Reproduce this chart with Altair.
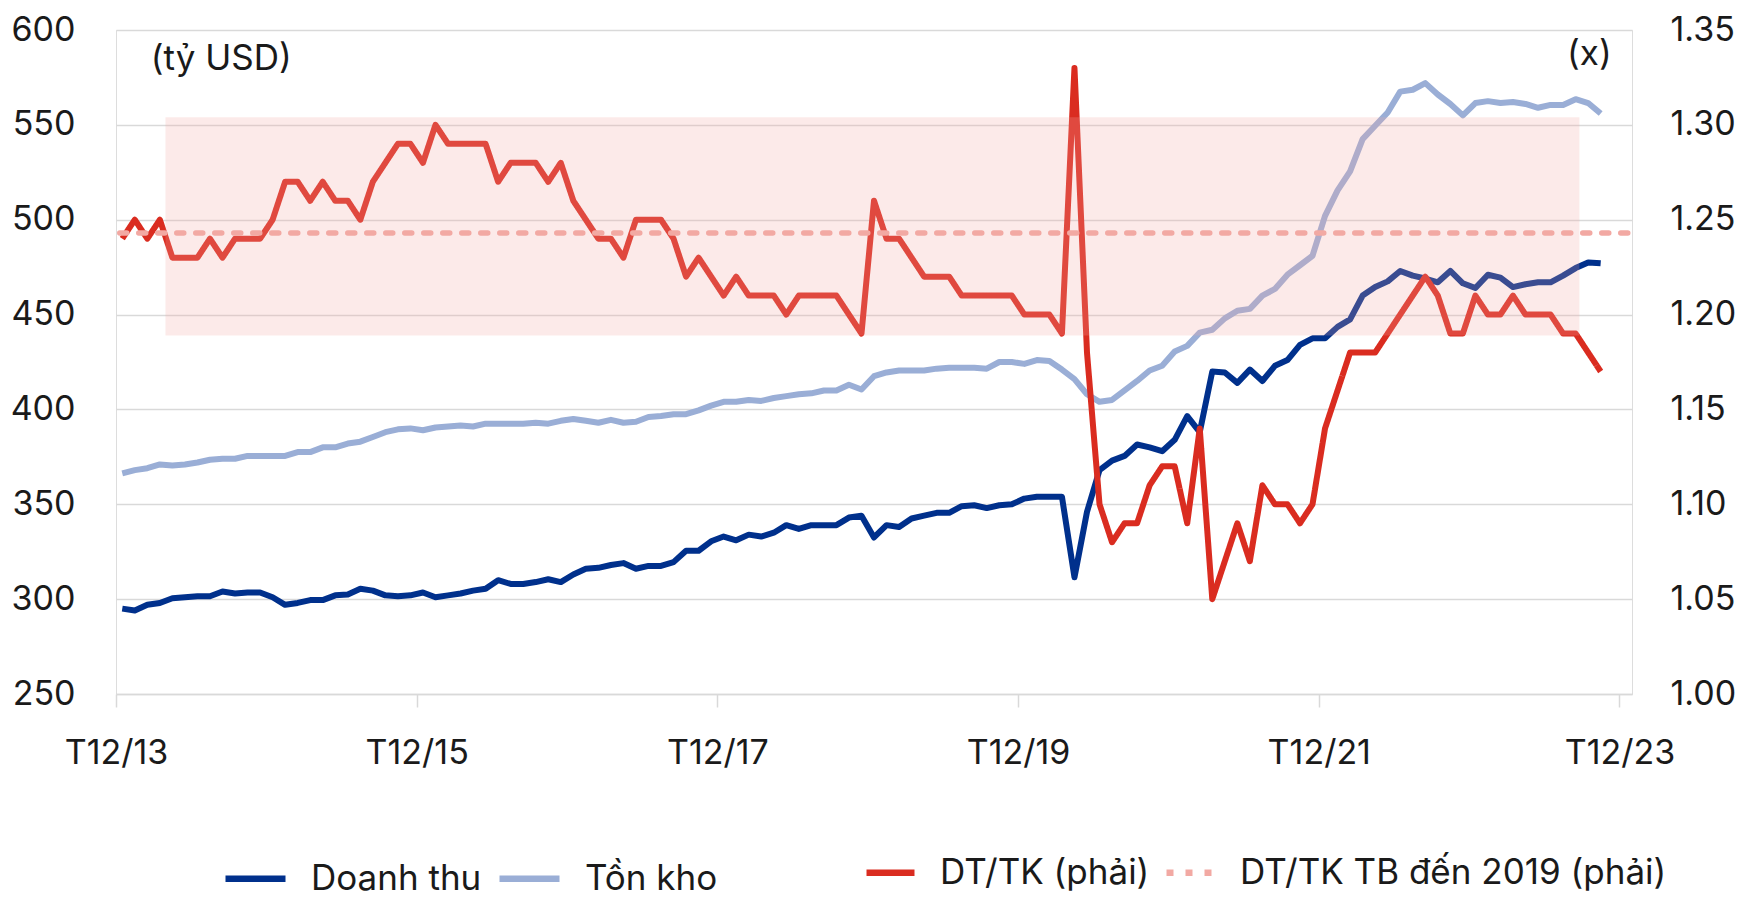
import altair as alt
import pandas as pd

# ---------------- data (monthly, index 0 = T12/2013) ----------------
doanh_thu = [
    295, 294, 297, 298, 300.5, 301, 301.5, 301.5, 304, 303,
    303.5, 303.5, 301, 297, 298, 299.5, 299.5, 302, 302.5, 305.5,
    304.5, 302, 301.5, 302, 303.5, 301, 302, 303, 304.5, 305.5,
    310, 308, 308, 309, 310.5, 309, 313, 316, 316.5, 318,
    319, 316, 317.5, 317.5, 319.5, 325.5, 325.5, 330.5, 333, 331,
    334, 333, 335, 339, 337, 339, 339, 339, 343, 344,
    332.5, 339, 338, 342.5, 344, 345.5, 345.5, 349, 349.5, 348,
    349.5, 350, 353, 354, 354, 354, 311.5, 346, 368, 373,
    375.5, 381.5, 380, 378, 384, 396.5, 388, 420, 419.5, 414,
    421, 415, 423, 426, 434, 437.5, 437.5, 443.5, 447.5, 460,
    464.5, 467.5, 473, 470.5, 469, 467, 473, 466.5, 464, 471,
    469.5, 464.5, 466, 467, 467, 470.5, 474.5, 477.5, 477,
]
ton_kho = [
    366.3, 368, 369, 371, 370.5, 371, 372, 373.5, 374, 374,
    375.5, 375.5, 375.5, 375.5, 377.5, 377.5, 380, 380, 382, 383,
    385.5, 388, 389.5, 390, 389, 390.5, 391, 391.5, 391, 392.5,
    392.5, 392.5, 392.5, 393, 392.5, 394, 395, 394, 393, 394.5,
    393, 393.5, 396, 396.5, 397.5, 397.5, 399.5, 402, 404, 404,
    405, 404.5, 406, 407, 408, 408.5, 410, 410, 413, 410.5,
    417.5, 419.5, 420.5, 420.5, 420.5, 421.5, 422, 422, 422, 421.5,
    425, 425, 424, 426, 425.5, 421, 416, 408, 404, 405,
    410, 415, 420.5, 423, 430.5, 433.5, 440.5, 442, 448, 452,
    453, 460, 463.5, 471, 476, 481, 502, 515.5, 525.5, 542.5,
    549.5, 556.5, 567.5, 568.5, 572, 566, 561, 555, 561.5, 562.5,
    561.5, 562, 561, 559, 560.5, 560.5, 563.5, 561.5, 556,
]
dt_tk = [
    1.24, 1.25, 1.24, 1.25, 1.23, 1.23, 1.23, 1.24, 1.23, 1.24,
    1.24, 1.24, 1.25, 1.27, 1.27, 1.26, 1.27, 1.26, 1.26, 1.25,
    1.27, 1.28, 1.29, 1.29, 1.28, 1.30, 1.29, 1.29, 1.29, 1.29,
    1.27, 1.28, 1.28, 1.28, 1.27, 1.28, 1.26, 1.25, 1.24, 1.24,
    1.23, 1.25, 1.25, 1.25, 1.24, 1.22, 1.23, 1.22, 1.21, 1.22,
    1.21, 1.21, 1.21, 1.20, 1.21, 1.21, 1.21, 1.21, 1.20, 1.19,
    1.26, 1.24, 1.24, 1.23, 1.22, 1.22, 1.22, 1.21, 1.21, 1.21,
    1.21, 1.21, 1.20, 1.20, 1.20, 1.19, 1.33, 1.18, 1.10, 1.08,
    1.09, 1.09, 1.11, 1.12, 1.12, 1.09, 1.14, 1.05, 1.07, 1.09,
    1.07, 1.11, 1.10, 1.10, 1.09, 1.10, 1.14, 1.16, 1.18, 1.18,
    1.18, 1.19, 1.20, 1.21, 1.22, 1.21, 1.19, 1.19, 1.21, 1.20,
    1.20, 1.21, 1.20, 1.20, 1.20, 1.19, 1.19, 1.18, 1.17,
]
avg_ratio = [1.243]              # DT/TK TB đến 2019
avg_span = [0.3, 121]            # months from T12/13
band_span = [3.95, 116.8]        # shaded range (months)
band_ratio = [1.189, 1.304]      # shaded range (right axis)

tick_months = [0, 24, 48, 72, 96, 120]
tick_labels = ["T12/13", "T12/15", "T12/17", "T12/19", "T12/21", "T12/23"]
left_ticks = [250, 300, 350, 400, 450, 500, 550, 600]
right_ticks = [1.00, 1.05, 1.10, 1.15, 1.20, 1.25, 1.30, 1.35]

series_names = ["Doanh thu", "Tồn kho", "DT/TK (phải)", "DT/TK TB đến 2019 (phải)"]
unit_texts = ["(tỷ USD)", "(x)"]

# ---------------- styling ----------------
NAVY = "#00308C"
LIGHT = "#9AAED6"
RED = "#DA2C20"
PINK = "#F2A9A3"
GRID = "#D9D9D9"
TXT = "#1A1A1A"
FONT = "Inter"
W, H = 1516, 664
LW = 6

n = len(doanh_thu)
x_pos = [i + 0.5 for i in range(n)]

df_dt = pd.DataFrame({"x": x_pos, "value": doanh_thu, "series": series_names[0]})
df_tk = pd.DataFrame({"x": x_pos, "value": ton_kho, "series": series_names[1]})
df_ratio = pd.DataFrame({"x": x_pos, "value": dt_tk, "series": series_names[2]})
df_avg = pd.DataFrame({"x": [avg_span[0]], "x2": [avg_span[1]],
                       "value": avg_ratio, "series": [series_names[3]]})
df_band = pd.DataFrame({"x": [band_span[0]], "x2": [band_span[1]],
                        "value": [band_ratio[0]], "y2": [band_ratio[1]]})
df_unit_left = pd.DataFrame({"x": [8.4], "value": [584.5], "text": [unit_texts[0]]})
df_unit_right = pd.DataFrame({"x": [117.6], "value": [1.3375], "text": [unit_texts[1]]})

label_expr = " : ".join(
    f"datum.value == {m} ? '{l}'" for m, l in zip(tick_months, tick_labels)
) + " : ''"

x_scale = alt.Scale(domain=[0, 121], nice=False, zero=False)
x_axis = alt.Axis(
    values=tick_months, labelExpr=label_expr, title=None, grid=False,
    domain=True, domainColor=GRID, domainWidth=1.5,
    ticks=True, tickColor=GRID, tickWidth=1.5, tickSize=13,
    labelPadding=29, labelFlush=False, labelOverlap=False,
    labelFontSize=34, labelColor=TXT, labelFont=FONT,
)
left_scale = alt.Scale(domain=[250, 600], nice=False, zero=False)
left_axis = alt.Axis(
    values=left_ticks, title=None, grid=True, gridColor=GRID, gridWidth=1.5,
    domain=False, ticks=False, labelPadding=41,
    labelFontSize=34, labelColor=TXT, labelFont=FONT,
)
right_scale = alt.Scale(domain=[1.0, 1.35], nice=False, zero=False)
right_axis = alt.Axis(
    values=right_ticks, format=".2f", orient="right", title=None, grid=False,
    domain=False, ticks=False, labelPadding=38,
    labelFontSize=34, labelColor=TXT, labelFont=FONT,
)

X = alt.X("x:Q", scale=x_scale, axis=x_axis)
YL = alt.Y("value:Q", scale=left_scale, axis=left_axis)
YR = alt.Y("value:Q", scale=right_scale, axis=right_axis)

legend_common = dict(
    orient="none", direction="horizontal", title=None, symbolType="stroke",
    symbolStrokeWidth=6.5, labelFontSize=35, labelFont=FONT,
    labelColor=TXT, labelOffset=22, labelLimit=800, columns=2,
)
legend_a = alt.Legend(legendX=106, legendY=815, columnPadding=4,
                      symbolSize=3600, **legend_common)
legend_b = alt.Legend(legendX=747, legendY=815, columnPadding=3,
                      symbolSize=2304, **legend_common)

color_scale = alt.Scale(domain=series_names[:2], range=[NAVY, LIGHT])
stroke_scale = alt.Scale(domain=series_names[2:], range=[RED, PINK])
dash_scale = alt.Scale(domain=series_names[2:], range=[[1, 0], [7, 12]])

COLOR = alt.Color("series:N", scale=color_scale, legend=legend_a)
STROKE = alt.Stroke("series:N", scale=stroke_scale, legend=legend_b)
DASH = alt.StrokeDash("series:N", scale=dash_scale, legend=legend_b)

# ---------------- left-axis layers ----------------
tk_line = alt.Chart(df_tk).mark_line(strokeWidth=LW, strokeJoin="round").encode(
    x=X, y=YL, color=COLOR)
dt_line = alt.Chart(df_dt).mark_line(strokeWidth=LW, strokeJoin="round").encode(
    x=X, y=YL, color=COLOR)
unit_left = alt.Chart(df_unit_left).mark_text(
    font=FONT, fontSize=35, color=TXT, align="center", baseline="middle"
).encode(x=X, y=YL, text="text:N")
left = alt.layer(tk_line, dt_line, unit_left)

# ---------------- right-axis layers ----------------
ratio_line = alt.Chart(df_ratio).mark_line(strokeWidth=LW, strokeJoin="round").encode(
    x=X, y=YR, stroke=STROKE, strokeDash=DASH)
band = alt.Chart(df_band).mark_rect(fill=PINK, opacity=0.24).encode(
    x=X, x2="x2:Q", y=YR, y2="y2:Q")
avg_rule = alt.Chart(df_avg).mark_rule(strokeWidth=5.5, strokeCap="round").encode(
    x=X, x2="x2:Q", y=YR, stroke=STROKE,
    strokeDash=alt.StrokeDash("series:N", scale=alt.Scale(domain=series_names[2:], range=[[1, 0], [7, 17]]), legend=None))
unit_right = alt.Chart(df_unit_right).mark_text(
    font=FONT, fontSize=35, color=TXT, align="center", baseline="middle"
).encode(x=X, y=YR, text="text:N")
right = alt.layer(ratio_line, band, avg_rule, unit_right)

chart = (
    alt.layer(left, right)
    .resolve_scale(y="independent")
    .properties(
        width=W, height=H,
        autosize=alt.AutoSizeParams(type="none"),
        padding={"left": 108, "top": 22, "right": 116, "bottom": 215},
    )
    .configure_view(strokeWidth=0)
    .configure(font=FONT)
)

chart.save("out.html", embed_options={"renderer": "svg", "actions": False})
